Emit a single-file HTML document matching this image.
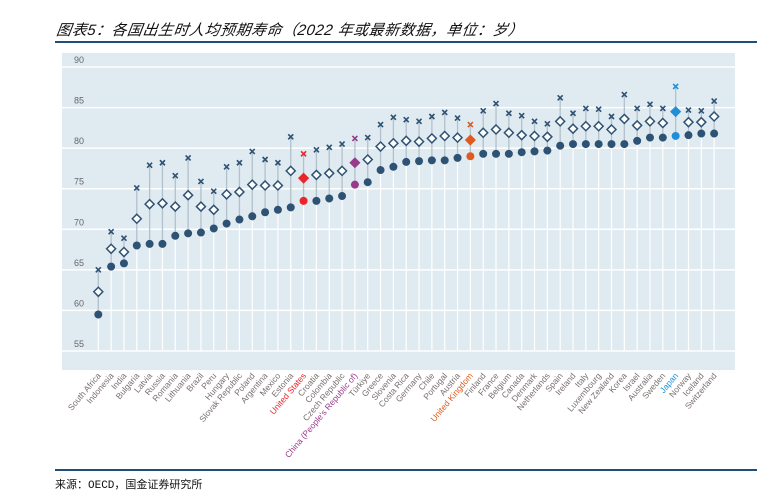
<!DOCTYPE html>
<html><head><meta charset="utf-8">
<style>
body{margin:0;width:771px;height:491px;background:#fff;overflow:hidden;position:relative;font-family:"Liberation Sans","Noto Sans CJK SC",sans-serif;}
.title{position:absolute;left:55px;top:19px;font-size:15px;font-style:italic;font-weight:normal;color:#111;font-family:"Liberation Sans","Noto Sans CJK SC",sans-serif;letter-spacing:0.5px;transform:skewX(-8deg);transform-origin:left bottom;}
.rule{position:absolute;left:55px;width:702px;height:2px;background:#1f4e79;}
.src{position:absolute;left:55px;top:476px;font-size:11px;color:#111;font-family:"Liberation Mono","Noto Sans CJK SC",monospace;}
</style></head><body>
<div class="title">图表5：各国出生时人均预期寿命（2022 年或最新数据，单位：岁）</div>
<div class="rule" style="top:41px"></div>
<svg id="chart" width="771" height="491" style="position:absolute;left:0;top:0"></svg>
<div class="rule" style="top:469px"></div>
<div class="src">来源：OECD，国金证券研究所</div>
<script>
const countries=["South Africa","Indonesia","India","Bulgaria","Latvia","Russia","Romania","Lithuania","Brazil","Peru","Hungary","Slovak Republic","Poland","Argentina","Mexico","Estonia","United States","Croatia","Colombia","Czech Republic","China (People's Republic of)","Türkiye","Greece","Slovenia","Costa Rica","Germany","Chile","Portugal","Austria","United Kingdom","Finland","France","Belgium","Canada","Denmark","Netherlands","Spain","Ireland","Italy","Luxembourg","New Zealand","Korea","Israel","Australia","Sweden","Japan","Norway","Iceland","Switzerland"];
const male=[59.5,65.4,65.8,68.0,68.2,68.2,69.2,69.5,69.6,70.1,70.7,71.2,71.6,72.1,72.4,72.7,73.5,73.5,73.8,74.1,75.5,75.8,77.3,77.7,78.3,78.4,78.5,78.5,78.8,79.0,79.3,79.3,79.3,79.5,79.6,79.7,80.3,80.5,80.5,80.5,80.5,80.5,80.9,81.3,81.3,81.5,81.6,81.8,81.8];
const total=[62.3,67.6,67.2,71.3,73.1,73.2,72.8,74.2,72.8,72.4,74.3,74.6,75.5,75.4,75.4,77.2,76.3,76.7,76.9,77.2,78.2,78.6,80.2,80.6,80.9,80.8,81.2,81.5,81.3,81.0,81.9,82.3,81.9,81.6,81.5,81.4,83.3,82.4,82.7,82.7,82.3,83.6,82.8,83.3,83.1,84.5,83.2,83.2,83.9];
const female=[65.0,69.7,68.9,75.1,77.9,78.2,76.6,78.8,75.9,74.7,77.7,78.2,79.6,78.6,78.2,81.4,79.3,79.8,80.1,80.5,81.2,81.3,82.9,83.8,83.5,83.3,83.9,84.4,83.7,82.9,84.6,85.5,84.3,84.0,83.3,83.0,86.2,84.3,84.9,84.8,83.9,86.6,84.9,85.4,84.9,87.6,84.7,84.6,85.8];
const yTicks=[55,60,65,70,75,80,85,90];
const highlight={"United States":"#e8262b","China (People's Republic of)":"#993b8b","United Kingdom":"#e05a1f","Japan":"#1e8fd8"};
const base="#2e5273";
const svg=document.getElementById('chart');
const NS="http://www.w3.org/2000/svg";
const X0=62,X1=735,Y0=53,Y1=370;
const y=v=>67+(90-v)*(351-67)/35;
const x=i=>98.3+i*12.83;
function mk(t,a){const e=document.createElementNS(NS,t);for(const k in a)e.setAttribute(k,a[k]);svg.appendChild(e);return e;}
let bg=mk('rect',{x:X0,y:Y0,width:X1-X0,height:Y1-Y0,fill:'#dfeaf1'});


yTicks.forEach(t=>{
  let g=mk('line',{x1:X0,x2:X1,y1:y(t),y2:y(t),stroke:'#fff','stroke-width':1.5});
  
  
  let tx=mk('text',{x:74,y:y(t)-4,'font-size':9,fill:'#666','font-family':'Liberation Sans, sans-serif'});
  tx.textContent=t;
  
  
});
countries.forEach((c,i)=>{
  const col=highlight[c]||base;
  const cx=x(i);
  let vl=mk('line',{x1:cx,x2:cx,y1:y(male[i]),y2:y(55),stroke:'#fff','stroke-width':1.2});
  
  
  let cl=mk('line',{x1:cx,x2:cx,y1:y(female[i]),y2:y(male[i]),stroke:'#b3c1cc','stroke-width':1.3});
  
  
  const fy=y(female[i]);
  let xm=mk('path',{d:`M${cx-2.5},${fy-2.5}L${cx+2.5},${fy+2.5}M${cx-2.5},${fy+2.5}L${cx+2.5},${fy-2.5}`,stroke:col,'stroke-width':1.6});
  
  
  const ty=y(total[i]);
  const filled=!!highlight[c];
  let dm=mk('path',{d:`M${cx},${ty-4.5}L${cx+4.5},${ty}L${cx},${ty+4.5}L${cx-4.5},${ty}Z`,fill:filled?col:'#fff',stroke:col,'stroke-width':1.5});
  
  
  let ci=mk('circle',{cx:cx,cy:y(male[i]),r:4,fill:col});
  
  
  let lb=mk('text',{x:cx+3,y:376,'font-size':8.5,fill:highlight[c]?col:'#7a6f6f','text-anchor':'end','font-family':'Liberation Sans, sans-serif',transform:`rotate(-50 ${cx+3} 376)`});
  lb.textContent=c;
  
  
});
</script>
</body></html>
